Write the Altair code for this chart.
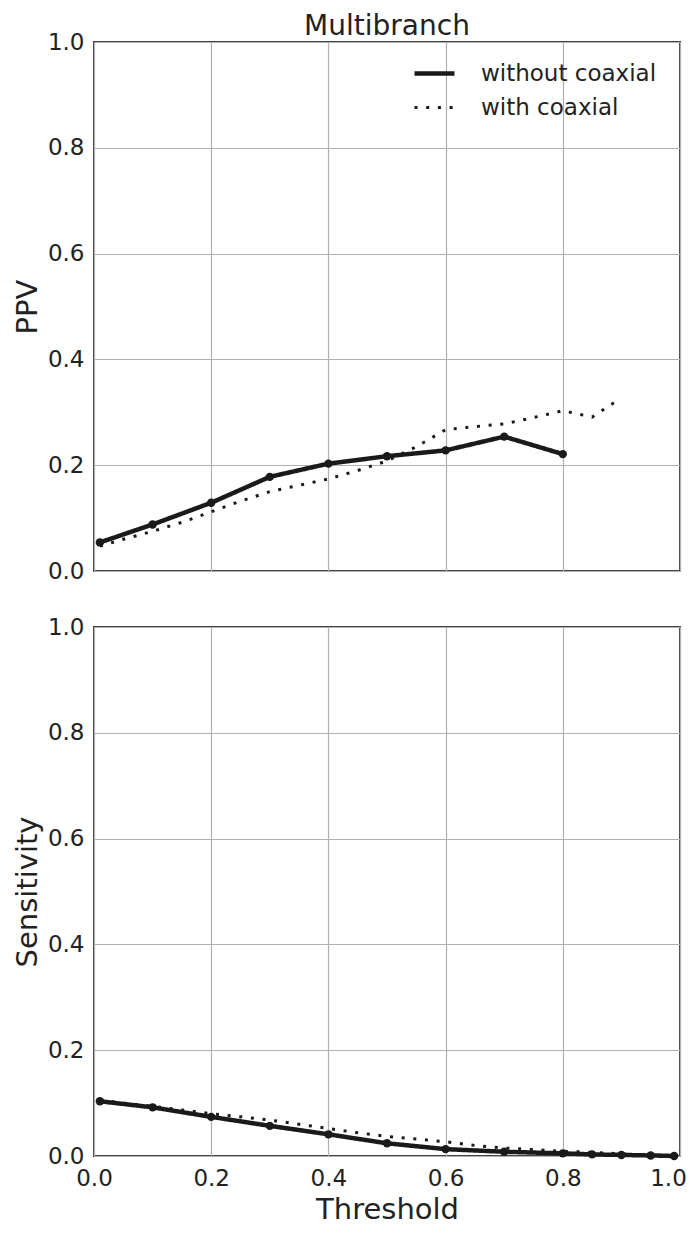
import altair as alt
import pandas as pd

SERIES = ["without coaxial", "with coaxial"]

# PPV panel
thr_ppv_without = [0.01, 0.1, 0.2, 0.3, 0.4, 0.5, 0.6, 0.7, 0.8]
ppv_without = [0.054, 0.088, 0.129, 0.178, 0.203, 0.217, 0.228, 0.254, 0.221]

thr_ppv_with = [0.01, 0.05, 0.1, 0.15, 0.2, 0.25, 0.3, 0.35, 0.4, 0.45,
                0.5, 0.55, 0.6, 0.65, 0.7, 0.75, 0.8, 0.85, 0.89]
ppv_with = [0.047, 0.060, 0.075, 0.092, 0.112, 0.132, 0.150, 0.162, 0.174, 0.190,
            0.208, 0.235, 0.267, 0.273, 0.278, 0.290, 0.303, 0.291, 0.320]

# Sensitivity panel
thr_sens_without = [0.01, 0.1, 0.2, 0.3, 0.4, 0.5, 0.6, 0.7, 0.8, 0.85, 0.9, 0.95, 0.99]
sens_without = [0.1035, 0.092, 0.074, 0.057, 0.041, 0.024, 0.013, 0.008, 0.005,
                0.003, 0.002, 0.001, 0.0]

thr_sens_with = [0.01, 0.05, 0.1, 0.15, 0.2, 0.25, 0.3, 0.35, 0.4, 0.45, 0.5,
                 0.55, 0.6, 0.65, 0.7, 0.75, 0.8, 0.85, 0.9, 0.95, 0.99]
sens_with = [0.106, 0.100, 0.094, 0.087, 0.080, 0.074, 0.068, 0.060, 0.052, 0.044, 0.037,
             0.032, 0.027, 0.020, 0.015, 0.012, 0.009, 0.007, 0.004, 0.002, 0.001]

TICKS = [0.0, 0.2, 0.4, 0.6, 0.8, 1.0]
INK = "#1a1a1a"
FONT = "DejaVu Sans"


def frame(thr_a, val_a, thr_b, val_b):
    rows = []
    for t, v in zip(thr_a, val_a):
        rows.append({"threshold": t, "value": v, "series": SERIES[0]})
    for t, v in zip(thr_b, val_b):
        rows.append({"threshold": t, "value": v, "series": SERIES[1]})
    return pd.DataFrame(rows)


def panel(df, ytitle, bottom, title=None, legend=False):
    x_axis = alt.Axis(values=TICKS, format=".1f", grid=True, ticks=False, domain=False,
                      labels=bottom, title="Threshold" if bottom else None,
                      labelFlush=False, labelOverlap=False, labelPadding=11,
                      labelOffset={"condition": {"test": "datum.value == 1", "value": -12},
                                   "value": 0},
                      titlePadding=5)
    y_axis = alt.Axis(values=TICKS, format=".1f", grid=True, ticks=False, domain=False,
                      title=ytitle, labelFlush=False, labelOverlap=False,
                      labelPadding=10, titlePadding=5)
    base = alt.Chart(df).encode(
        x=alt.X("threshold:Q", scale=alt.Scale(domain=[0, 1], nice=False), axis=x_axis),
        y=alt.Y("value:Q", scale=alt.Scale(domain=[0, 1], nice=False), axis=y_axis),
    )
    if legend:
        leg = alt.Legend(title=None, orient="none", legendX=318, legendY=9,
                         symbolType="stroke", symbolSize=1600, labelFontSize=23,
                         labelFont=FONT, labelColor="#222", labelOffset=24,
                         labelLimit=400, rowPadding=0, padding=0,
                         symbolStrokeColor=INK)
    else:
        leg = None
    lines = base.mark_line(color=INK).encode(
        strokeDash=alt.StrokeDash("series:N",
                                  scale=alt.Scale(domain=SERIES, range=[[1, 0], [3, 8.7]]),
                                  legend=leg),
        strokeWidth=alt.StrokeWidth("series:N",
                                    scale=alt.Scale(domain=SERIES, range=[4.5, 3]),
                                    legend=leg),
    )
    points = base.mark_point(filled=True, color=INK, size=70, opacity=1).transform_filter(
        alt.datum.series == SERIES[0]
    )
    props = dict(width=586, height=529)
    if title is not None:
        props["title"] = alt.Title(title, fontSize=28, font=FONT, fontWeight="normal",
                                   color="#222", offset=-10, frame="group")
    return alt.layer(lines, points).properties(**props)


top = panel(frame(thr_ppv_without, ppv_without, thr_ppv_with, ppv_with),
            "PPV", bottom=False, title="Multibranch", legend=True)
bot = panel(frame(thr_sens_without, sens_without, thr_sens_with, sens_with),
            "Sensitivity", bottom=True)

chart = alt.vconcat(top, bot, spacing=56, bounds="flush").resolve_scale(
    strokeDash="independent", strokeWidth="independent"
).resolve_legend(strokeDash="independent", strokeWidth="independent").properties(
    padding={"left": 4, "top": 4, "right": 0, "bottom": 0}
).configure_view(
    stroke="#444", strokeWidth=2
).configure_axis(
    labelFont=FONT, labelFontSize=23, labelColor="#222",
    titleFont=FONT, titleFontSize=29, titleFontWeight="normal", titleColor="#222",
    gridColor="#b0b0b0", gridWidth=1.2, gridOpacity=1
)

chart.save("out.html", embed_options={"renderer": "svg", "actions": False})
